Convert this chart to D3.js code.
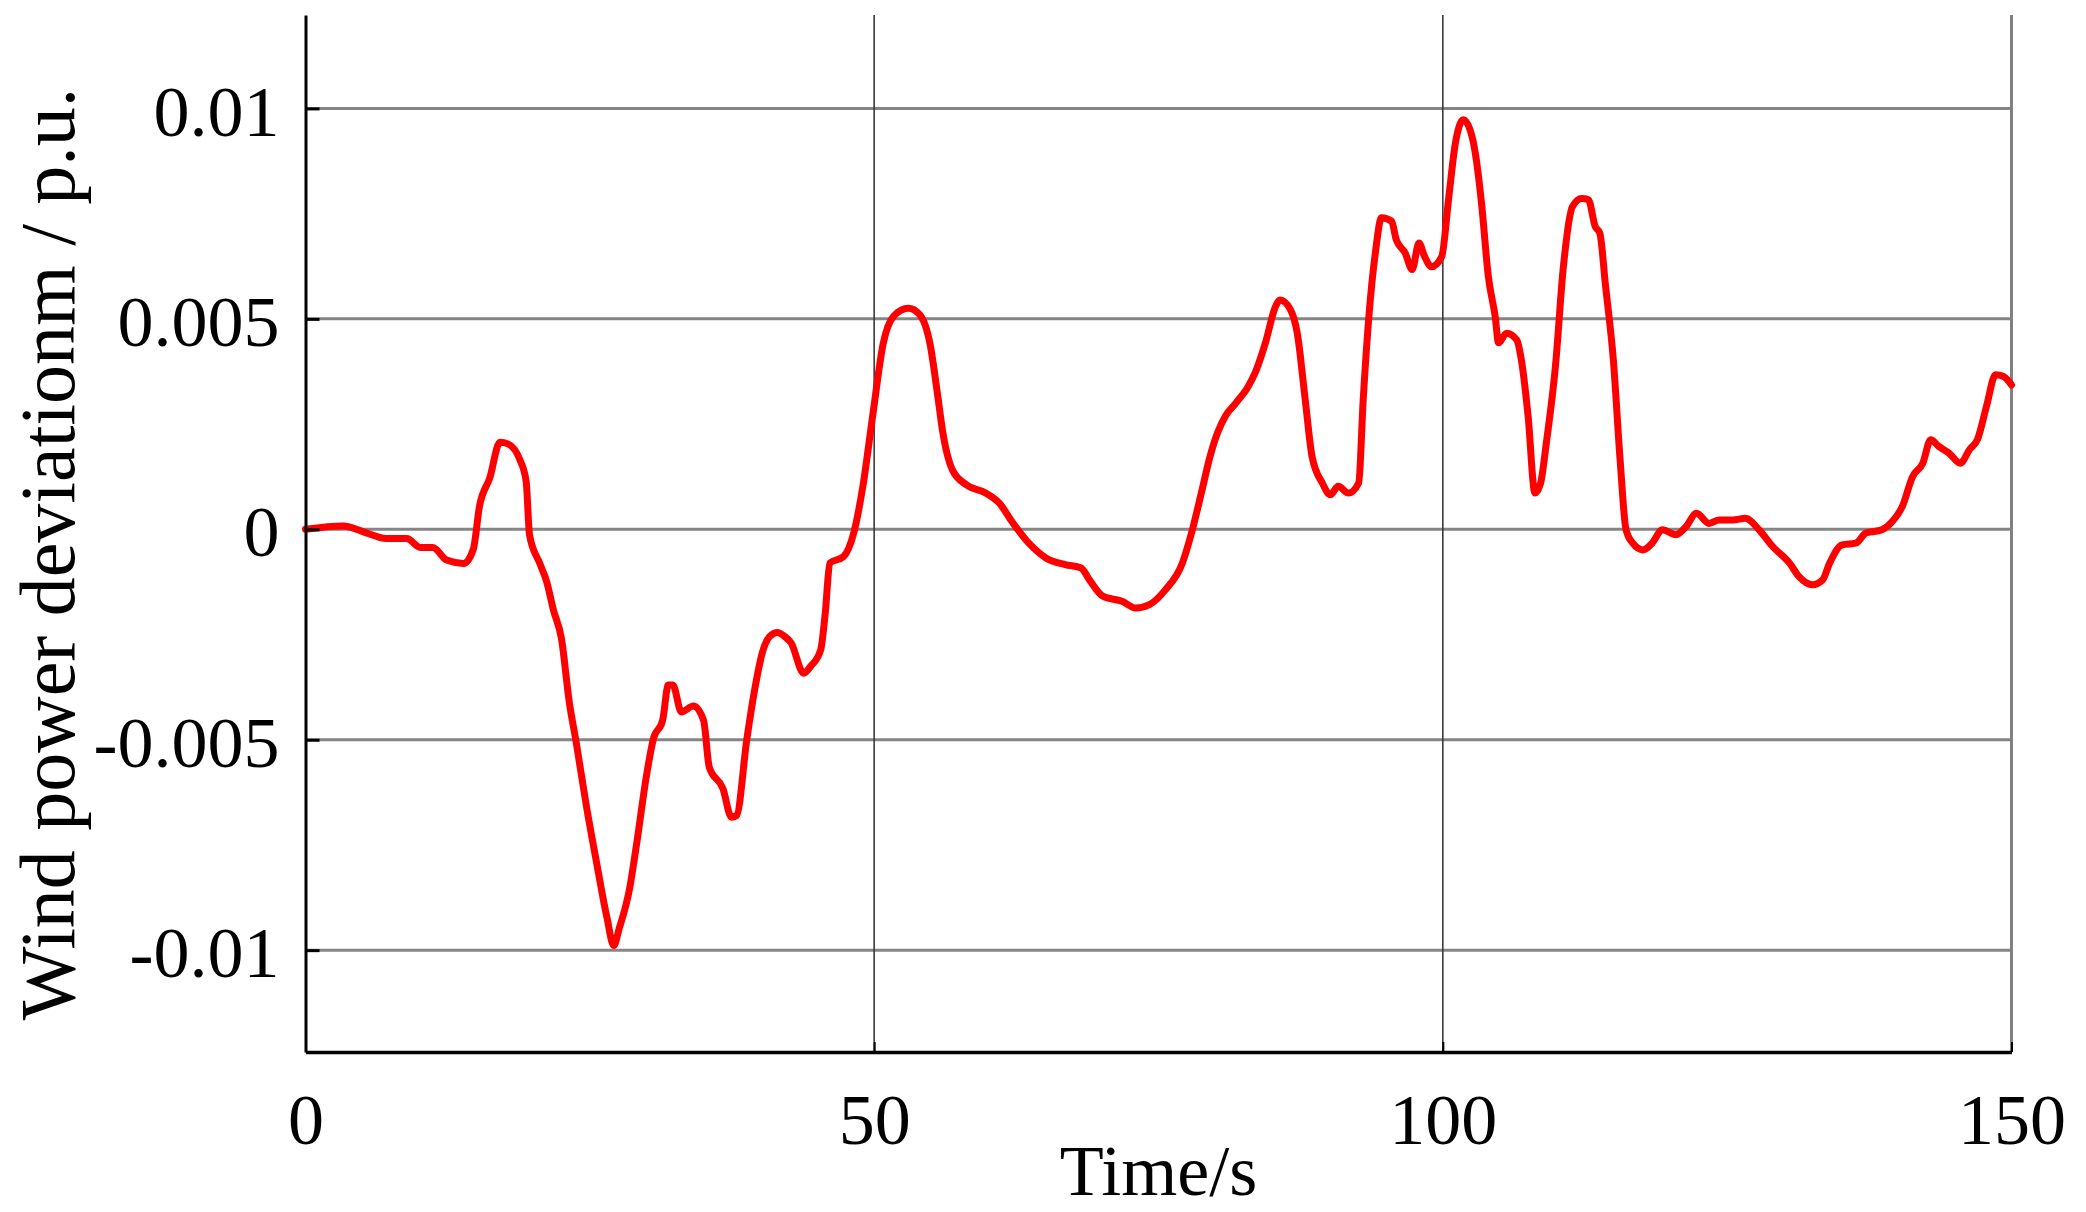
<!DOCTYPE html>
<html>
<head>
<meta charset="utf-8">
<script src="https://cdn.jsdelivr.net/npm/d3@7"></script>
<style>
  html, body { margin: 0; padding: 0; background: #fff; }
  svg { display: block; }
  text { font-family: "Liberation Serif", "Times New Roman", serif; fill: #000; }
</style>
</head>
<body>
<svg id="chart" width="2086" height="1212"></svg>
<script>
// ---- data ----
const timeS = [0,3.3,5.4,7.1,8.9,10.1,11.2,12.4,13.9,14.75,15.3,16.2,17.1,17.8,18.85,19.4,19.7,20.6,21.2,21.8,22.5,23.2,23.8,24.7,25.6,26.5,27.1,27.6,28.5,29.1,30.0,30.6,31.4,31.9,32.3,33.05,34.1,35.0,35.5,36.7,37.45,37.9,38.8,39.5,40.2,40.8,41.5,42.1,42.7,43.8,44.4,45.3,45.7,46.1,47.3,48.2,49.0,49.9,50.8,51.7,53.0,54.0,54.9,55.6,56.0,56.9,58.1,59.8,61.0,62.2,63.6,65.1,66.8,68.2,68.9,70.1,71.8,73.0,74.2,75.6,77.1,77.9,78.8,79.5,80.2,80.9,81.8,82.9,83.5,84.4,85.3,85.7,86.6,87.2,87.9,88.5,89.4,90.1,90.8,91.7,92.6,93.0,93.5,94.1,94.6,95.5,95.9,96.7,97.3,97.9,98.4,99.0,99.9,100.5,101.1,101.8,102.4,102.9,103.4,104.0,104.6,104.9,105.6,106.5,106.9,107.5,108.1,108.6,109.1,109.9,110.6,111.4,112.2,112.8,113.4,113.8,114.3,115.0,115.6,116.1,116.7,117.6,118.4,119.3,120.5,121.4,122.3,123.4,124.3,125.5,126.6,127.8,129.0,130.5,131.3,132.5,133.4,134.0,135.1,136.3,137.2,138.6,139.5,140.4,141.3,142.2,142.9,143.6,144.5,145.5,146.3,147.0,147.8,148.6,149.3,150];
const deviation = [0,0.00008,-0.00009,-0.00022,-0.00022,-0.00043,-0.00043,-0.00073,-0.00081,-0.00048,0.00055,0.00122,0.00207,0.00203,0.00165,0.00114,-0.00014,-0.00081,-0.00124,-0.00192,-0.00259,-0.00412,-0.00506,-0.00658,-0.00793,-0.00922,-0.00989,-0.00947,-0.00853,-0.0075,-0.00582,-0.00497,-0.00454,-0.0037,-0.0037,-0.00434,-0.0042,-0.00454,-0.00565,-0.00616,-0.00684,-0.0068,-0.0050,-0.0038,-0.0029,-0.00255,-0.00245,-0.00254,-0.0027,-0.00342,-0.00326,-0.00286,-0.00199,-0.0008,-0.00065,-0.00009,0.00101,0.00276,0.00442,0.00506,0.00525,0.0051,0.00442,0.00315,0.00236,0.0014,0.00106,0.00086,0.00062,0.00015,-0.00033,-0.00068,-0.00084,-0.00092,-0.00119,-0.00159,-0.00171,-0.00187,-0.00179,-0.00144,-0.0008,-0.00009,0.0009,0.0017,0.0023,0.0027,0.0030,0.0034,0.00372,0.00443,0.0053,0.00545,0.00522,0.00466,0.00308,0.00173,0.0011,0.00082,0.00102,0.00086,0.0011,0.00308,0.00506,0.00664,0.0074,0.00732,0.00688,0.00656,0.00617,0.0068,0.00648,0.00624,0.00648,0.00783,0.00917,0.00973,0.00949,0.00886,0.00775,0.00601,0.00506,0.00443,0.00466,0.0045,0.00403,0.00268,0.00086,0.0011,0.00205,0.00387,0.00624,0.00767,0.00786,0.00783,0.00719,0.00704,0.0058,0.0040,0.0016,0.0000,-0.00033,-0.00049,-0.00033,-0.00001,-0.00013,0.00007,0.00038,0.00014,0.00022,0.00022,0.00026,-0.00001,-0.00041,-0.00081,-0.00112,-0.00132,-0.0012,-0.00081,-0.00037,-0.00033,-0.00009,-0.00001,0.00018,0.00054,0.00125,0.00157,0.00213,0.00197,0.00181,0.00157,0.00189,0.00213,0.00292,0.00367,0.00363,0.00343];
const xTicks = [0, 50, 100, 150];
const xTickLabels = ["0", "50", "100", "150"];
const yTicks = [0.01, 0.005, 0, -0.005, -0.01];
const yTickLabels = ["0.01", "0.005", "0", "-0.005", "-0.01"];
const xDomain = [0, 150];
const yDomain = [-0.01242, 0.01222];
const xTitle = "Time/s";
const yTitle = "Wind power deviationm / p.u.";

// ---- layout ----
const plotLeft = 305.5, plotRight = 2011.5, plotTop = 15, plotBottom = 1052;
const svg = d3.select("#chart");
const x = d3.scaleLinear().domain(xDomain).range([plotLeft, plotRight]);
const y = d3.scaleLinear().domain(yDomain).range([plotBottom, plotTop]);

// horizontal grid lines
svg.append("g").selectAll("line").data(yTicks).join("line")
  .attr("x1", x(xDomain[0])).attr("x2", x(xDomain[1]))
  .attr("y1", d => y(d)).attr("y2", d => y(d))
  .attr("stroke", "#858585").attr("stroke-width", 3);

// vertical grid lines (interior)
svg.append("g").selectAll("line").data(xTicks.filter(d => d > xDomain[0] && d < xDomain[1])).join("line")
  .attr("x1", d => x(d)).attr("x2", d => x(d))
  .attr("y1", y(yDomain[0])).attr("y2", y(yDomain[1]))
  .attr("stroke", "#3a3a3a").attr("stroke-width", 1.6);

// right border (grey)
svg.append("line")
  .attr("x1", x(xDomain[1])).attr("x2", x(xDomain[1]))
  .attr("y1", y(yDomain[0])).attr("y2", y(yDomain[1]))
  .attr("stroke", "#808080").attr("stroke-width", 3);

// data line
const pts = timeS.map((t, i) => [t, deviation[i]]);
svg.append("path")
  .datum(pts)
  .attr("fill", "none")
  .attr("stroke", "#ff0000")
  .attr("stroke-width", 7)
  .attr("stroke-linejoin", "round")
  .attr("stroke-linecap", "round")
  .attr("d", d3.line().x(d => x(d[0])).y(d => y(d[1])).curve(d3.curveMonotoneX));

// y axis
const yAxis = d3.axisLeft(y).tickValues(yTicks)
  .tickFormat((d, i) => yTickLabels[i])
  .tickSizeInner(-14).tickSizeOuter(0).tickPadding(26);
const gy = svg.append("g").attr("transform", `translate(${plotLeft},0)`).call(yAxis);
gy.select(".domain").attr("stroke", "#000").attr("stroke-width", 3);
gy.selectAll(".tick line").attr("stroke", "#000").attr("stroke-width", 3);
gy.selectAll(".tick text")
  .style("font-family", '"Liberation Serif", "Times New Roman", serif')
  .style("font-size", "72px").attr("fill", "#000").attr("dy", "0.37em");

// x axis
const xAxis = d3.axisBottom(x).tickValues(xTicks)
  .tickFormat((d, i) => xTickLabels[i])
  .tickSizeInner(-10).tickSizeOuter(0).tickPadding(41);
const gx = svg.append("g").attr("transform", `translate(0,${plotBottom})`).call(xAxis);
gx.select(".domain").attr("stroke", "#000").attr("stroke-width", 3.5);
gx.selectAll(".tick line").attr("stroke", "#000").attr("stroke-width", 2);
gx.selectAll(".tick text")
  .style("font-family", '"Liberation Serif", "Times New Roman", serif')
  .style("font-size", "72px").attr("fill", "#000");

// axis titles
svg.append("text")
  .attr("x", (plotLeft + plotRight) / 2).attr("y", 1195)
  .attr("text-anchor", "middle")
  .style("font-size", "72px")
  .text(xTitle);

svg.append("text")
  .attr("transform", `translate(74,554) rotate(-90)`)
  .attr("text-anchor", "middle")
  .style("font-size", "78px")
  .text(yTitle);
</script>
</body>
</html>
